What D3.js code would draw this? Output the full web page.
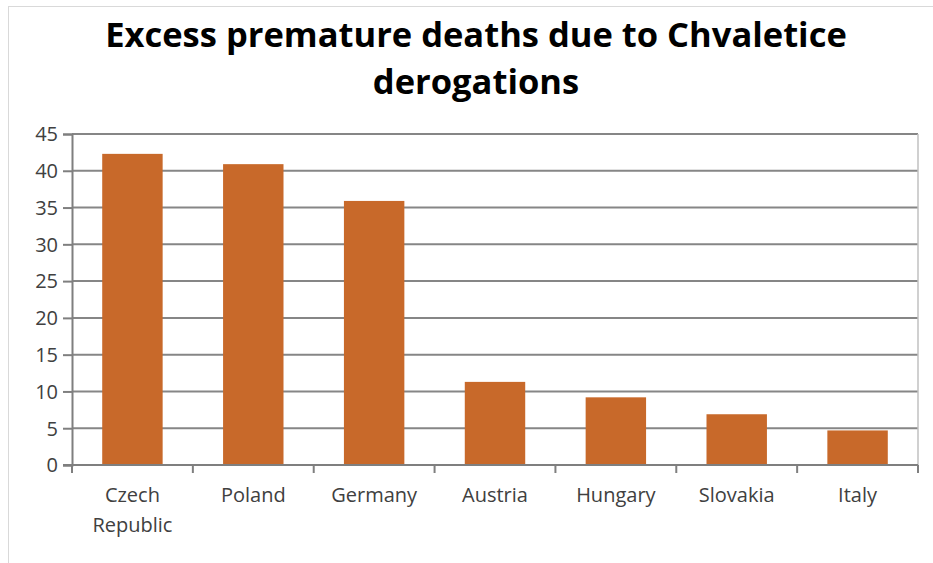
<!DOCTYPE html>
<html>
<head>
<meta charset="utf-8">
<script src="https://cdn.jsdelivr.net/npm/d3@7"></script>
<style>
  body { margin: 0; background: #fff; }
  svg { display: block; }
  text { font-family: "Open Sans", "DejaVu Sans", sans-serif; }
</style>
</head>
<body>
<div id="chart"></div>
<script>
const countries = ['Czech Republic', 'Poland', 'Germany', 'Austria', 'Hungary', 'Slovakia', 'Italy']
const deaths = [42.3, 40.9, 35.9, 11.3, 9.2, 6.9, 4.7]
const yTicks = [0, 5, 10, 15, 20, 25, 30, 35, 40, 45]
const titleLines = ['Excess premature deaths due to Chvaletice', 'derogations']

const width = 933
const height = 563
const margin = { top: 134, right: 15, bottom: 98, left: 72 }
const barColor = '#C8692A'

const svg = d3.select('#chart')
	.append('svg')
	.attr('width', width)
	.attr('height', height)

// outer chart frame
svg.append('rect')
	.attr('x', 8.5)
	.attr('y', 6.5)
	.attr('width', width)
	.attr('height', height)
	.attr('fill', 'none')
	.attr('stroke', '#d9d9d9')

const x = d3.scaleBand()
	.domain(countries)
	.range([margin.left, width - margin.right])
	.paddingInner(0.5)
	.paddingOuter(0.25)

const y = d3.scaleLinear()
	.domain([0, 45])
	.range([height - margin.bottom, margin.top])

// gridlines
svg.append('g')
	.selectAll('line')
	.data(yTicks.filter(d => d > 0))
	.join('line')
	.attr('x1', margin.left)
	.attr('x2', width - margin.right)
	.attr('y1', d => y(d))
	.attr('y2', d => y(d))
	.attr('stroke', '#868686')
	.attr('stroke-width', 2)

// right border of the plot
svg.append('line')
	.attr('x1', width - margin.right)
	.attr('x2', width - margin.right)
	.attr('y1', margin.top)
	.attr('y2', y(0))
	.attr('stroke', '#c0c0c0')
	.attr('stroke-width', 1.5)

svg.append('g')
	.selectAll('rect')
	.data(deaths)
	.join('rect')
	.attr('x', (d, i) => x(countries[i]))
	.attr('y', d => y(d))
	.attr('width', x.bandwidth())
	.attr('height', d => y(0) - y(d))
	.attr('fill', barColor)

// y axis
const yAxis = svg.append('g')
	.attr('transform', `translate(${margin.left},0)`)
	.call(d3.axisLeft(y).tickValues(yTicks).tickSize(9).tickPadding(5))
yAxis.select('.domain').attr('stroke', '#7f7f7f').attr('stroke-width', 2)
yAxis.selectAll('.tick line').attr('stroke', '#7f7f7f').attr('stroke-width', 2)
yAxis.selectAll('.tick text')
	.attr('font-size', 20)
	.attr('fill', '#404040')
	.attr('dy', '0.34em')

// x axis with ticks at category boundaries
const xAxis = svg.append('g')
	.attr('transform', `translate(0,${y(0)})`)
xAxis.append('line')
	.attr('x1', margin.left - 9)
	.attr('x2', width - margin.right)
	.attr('stroke', '#7f7f7f')
	.attr('stroke-width', 2)
const step = x.step()
xAxis.selectAll('.bound')
	.data(d3.range(countries.length + 1))
	.join('line')
	.attr('class', 'bound')
	.attr('x1', i => margin.left + i * step)
	.attr('x2', i => margin.left + i * step)
	.attr('y1', 0)
	.attr('y2', 8)
	.attr('stroke', '#7f7f7f')
	.attr('stroke-width', 2)

const labels = xAxis.selectAll('.lab')
	.data(countries)
	.join('text')
	.attr('class', 'lab')
	.attr('text-anchor', 'middle')
	.attr('font-size', 20)
	.attr('fill', '#404040')
	.attr('x', d => x(d) + x.bandwidth() / 2)
	.attr('y', 37)
labels.each(function (d) {
	const t = d3.select(this)
	d.split(' ').forEach((w, k) => {
		t.append('tspan')
			.attr('x', x(d) + x.bandwidth() / 2)
			.attr('dy', k === 0 ? 0 : 30)
			.text(w)
	})
})

// title
svg.append('g')
	.selectAll('text')
	.data(titleLines)
	.join('text')
	.attr('x', 476)
	.attr('y', (d, i) => 47 + i * 47)
	.attr('text-anchor', 'middle')
	.attr('font-size', 34.5)
	.attr('font-weight', 'bold')
	.attr('fill', '#000')
	.text(d => d)
</script>
</body>
</html>
